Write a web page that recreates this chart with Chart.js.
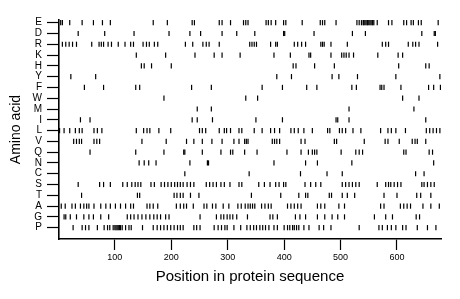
<!DOCTYPE html>
<html>
<head>
<meta charset="utf-8">
<script src="https://cdn.jsdelivr.net/npm/chart.js"></script>
<style>
  html, body { margin: 0; padding: 0; background: #fff; }
  #wrap { width: 460px; height: 299px; }
</style>
</head>
<body>
<div id="wrap"><canvas id="aaChart" width="460" height="299"></canvas></div>
<script>
// amino acids, top row first
const AMINO_ACIDS = ['E', 'D', 'R', 'K', 'H', 'Y', 'F', 'W', 'M', 'I', 'L', 'V', 'Q', 'N', 'C', 'S', 'T', 'A', 'G', 'P'];
const X_TICKS = [100, 200, 300, 400, 500, 600];
const X_MIN = 1;
const X_MAX = 678;

// positions of each residue in the sequence
const POS_E = [4, 7, 20, 42, 62, 78, 92, 168, 193, 237, 241, 285, 290, 305, 328, 332, 336, 368, 372, 377, 385, 399, 403, 432, 464, 468, 472, 492, 529, 533, 537, 540, 541, 543, 545, 547, 548, 550, 552, 554, 556, 557, 559, 565, 585, 591, 612, 617, 625, 629, 638, 643, 673];
const POS_D = [35, 82, 134, 196, 233, 252, 290, 316, 348, 399, 401, 453, 521, 544, 644, 666, 668];
const POS_R = [7, 13, 19, 25, 32, 59, 72, 76, 80, 88, 94, 106, 118, 128, 133, 150, 156, 161, 170, 176, 225, 238, 256, 262, 267, 285, 339, 343, 347, 351, 376, 385, 388, 418, 424, 431, 438, 465, 468, 471, 483, 512, 574, 580, 585, 620, 628, 633, 639, 672];
const POS_K = [138, 190, 242, 276, 290, 322, 382, 411, 444, 447, 483, 502, 506, 510, 515, 523, 566, 602, 610];
const POS_H = [147, 152, 165, 200, 416, 421, 454, 489, 603, 651, 657];
const POS_Y = [22, 66, 387, 413, 485, 497, 530, 598, 676];
const POS_F = [46, 80, 137, 144, 236, 271, 361, 397, 440, 458, 520, 528, 570, 573, 577, 607, 656, 665, 677];
const POS_W = [187, 332, 353, 610, 639];
const POS_M = [246, 271, 515, 630];
const POS_I = [39, 56, 237, 246, 273, 350, 397, 492, 495, 515, 651];
const POS_L = [2, 10, 20, 30, 37, 42, 63, 69, 77, 138, 151, 157, 162, 178, 199, 250, 255, 261, 285, 294, 298, 305, 320, 325, 347, 361, 376, 383, 392, 412, 418, 425, 435, 450, 477, 481, 498, 503, 509, 522, 536, 571, 584, 590, 598, 615, 652, 658, 664, 670, 676];
const POS_V = [27, 32, 37, 41, 63, 68, 73, 148, 191, 227, 240, 255, 272, 290, 311, 320, 330, 333, 336, 379, 383, 387, 392, 430, 437, 489, 493, 542, 579, 584, 604, 627, 632, 636, 651];
const POS_Q = [56, 137, 187, 222, 224, 255, 288, 305, 309, 330, 352, 405, 430, 443, 450, 454, 458, 501, 527, 533, 539, 612, 616, 657, 663];
const POS_N = [143, 152, 160, 173, 233, 264, 266, 382, 438, 459, 520, 665];
const POS_C = [224, 338, 429, 476, 503, 633, 648];
const POS_S = [35, 73, 80, 92, 114, 122, 130, 136, 141, 146, 164, 170, 182, 188, 194, 200, 206, 211, 216, 221, 228, 234, 240, 262, 268, 274, 280, 288, 294, 304, 320, 325, 355, 365, 375, 385, 391, 399, 403, 437, 447, 456, 465, 503, 509, 515, 521, 527, 533, 565, 580, 585, 589, 595, 601, 607, 644, 648, 654, 660, 666];
const POS_T = [41, 140, 144, 205, 210, 216, 221, 234, 249, 342, 394, 426, 438, 442, 480, 484, 503, 512, 525, 577, 600, 635, 642, 660];
const POS_A = [5, 12, 24, 30, 39, 45, 50, 54, 63, 75, 84, 92, 101, 110, 119, 128, 133, 157, 162, 168, 176, 209, 216, 222, 227, 239, 258, 263, 273, 279, 292, 302, 318, 324, 331, 336, 340, 344, 348, 360, 366, 372, 377, 406, 412, 418, 424, 430, 459, 465, 472, 497, 507, 571, 577, 606, 612, 618, 624, 646, 660, 675];
const POS_G = [10, 13, 21, 32, 45, 54, 62, 75, 89, 122, 128, 134, 141, 148, 155, 162, 169, 175, 181, 190, 196, 251, 280, 288, 293, 299, 304, 309, 316, 335, 375, 380, 388, 420, 428, 438, 459, 472, 485, 495, 507, 560, 580, 592, 634, 640];
const POS_P = [26, 42, 48, 54, 69, 81, 87, 91, 97, 100, 102, 104, 106, 108, 110, 113, 119, 125, 129, 149, 168, 175, 181, 187, 193, 199, 205, 211, 216, 221, 240, 245, 251, 276, 283, 289, 295, 299, 311, 323, 334, 340, 346, 351, 357, 362, 367, 373, 382, 388, 400, 406, 410, 415, 418, 422, 426, 435, 444, 462, 470, 483, 533, 568, 574, 583, 590, 598, 610, 616, 636, 654, 669];

const POSITIONS = [POS_E, POS_D, POS_R, POS_K, POS_H, POS_Y, POS_F, POS_W, POS_M, POS_I,
                   POS_L, POS_V, POS_Q, POS_N, POS_C, POS_S, POS_T, POS_A, POS_G, POS_P];

(function() {
    'use strict';

    const FONT = '"Liberation Sans", Arial, Helvetica, sans-serif';

    const datasets = AMINO_ACIDS.map((aa, i) => ({
        label: aa,
        data: POSITIONS[i].map(p => ({ x: p, y: i })),
        pointStyle: 'line',
        rotation: 90,
        radius: 2.6,
        borderWidth: 1.2,
        borderColor: '#000',
        backgroundColor: '#000'
    }));

    const ctx = document.getElementById('aaChart').getContext('2d');
    new Chart(ctx, {
        type: 'scatter',
        data: { datasets: datasets },
        options: {
            responsive: false,
            animation: false,
            events: [],
            layout: { padding: { top: 20, right: 19, bottom: 0, left: 0 } },
            plugins: {
                legend: { display: false },
                tooltip: { enabled: false }
            },
            scales: {
                x: {
                    type: 'linear',
                    min: X_MIN,
                    max: X_MAX,
                    afterBuildTicks: (scale) => {
                        scale.ticks = X_TICKS.map(v => ({ value: v }));
                    },
                    afterFit: (scale) => { scale.height = 60; },
                    border: { display: true, color: '#000', width: 1.6 },
                    grid: {
                        drawOnChartArea: false,
                        tickLength: 11,
                        tickColor: '#000',
                        tickWidth: 1.2
                    },
                    ticks: {
                        padding: 2,
                        color: '#000',
                        maxRotation: 0,
                        font: { family: FONT, size: 9 }
                    },
                    title: {
                        display: true,
                        text: 'Position in protein sequence',
                        color: '#000',
                        padding: { top: 0, bottom: 13 },
                        font: { family: FONT, size: 15 }
                    }
                },
                y: {
                    type: 'linear',
                    reverse: true,
                    min: -0.25,
                    max: 20.05,
                    afterBuildTicks: (scale) => {
                        scale.ticks = AMINO_ACIDS.map((_, i) => ({ value: i }));
                    },
                    afterFit: (scale) => { scale.width = 59; },
                    border: { display: true, color: '#000', width: 1.6 },
                    grid: {
                        drawOnChartArea: false,
                        tickLength: 12,
                        tickColor: '#000',
                        tickWidth: 1.2
                    },
                    ticks: {
                        padding: 5,
                        color: '#000',
                        autoSkip: false,
                        font: { family: FONT, size: 10 },
                        callback: (value) => AMINO_ACIDS[value]
                    },
                    title: {
                        display: true,
                        text: 'Amino acid',
                        color: '#000',
                        padding: { top: 8, bottom: 0 },
                        font: { family: FONT, size: 14 }
                    }
                }
            }
        }
    });
})();
</script>
</body>
</html>
